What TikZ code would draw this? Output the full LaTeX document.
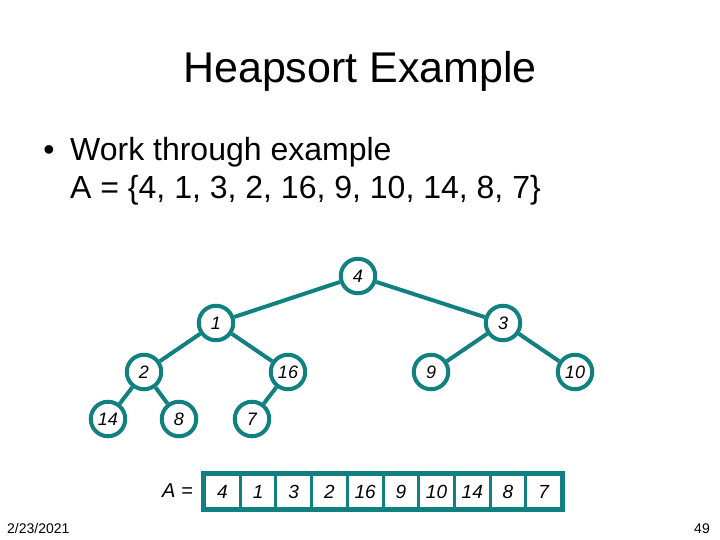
\documentclass[tikz,border=0pt]{standalone}
\usepackage{fontspec}
\setmainfont{Liberation Sans}
\definecolor{teal1}{RGB}{16,128,128}
\begin{document}
\begin{tikzpicture}[x=1pt,y=-1pt,
  hnode/.style={circle,draw=teal1,line width=4pt,fill=white,minimum size=34.5pt,inner sep=0pt,
     font=\fontsize{18}{20}\selectfont\itshape},
  hedge/.style={draw=teal1,line width=4pt},
  cell/.style={rectangle,draw=teal1,line width=3pt,minimum width=35.7pt,minimum height=34pt,inner sep=0pt,
     font=\fontsize{19}{22}\selectfont\itshape},
  txt/.style={inner sep=0pt,anchor=base west}]
\useasboundingbox (0,0) rectangle (720,540);
% title
\node[inner sep=0pt,anchor=base] (title) at (360,83) {\fontsize{43}{50}\selectfont Heapsort Example};
% bullet
\node[inner sep=0pt,anchor=base] (bul) at (49,161) {\fontsize{32}{38}\selectfont •};
\node[txt] (l1) at (70,161) {\fontsize{32}{38}\selectfont Work through example};
\node[txt] (l2) at (70,199) {\fontsize{32}{38}\selectfont A = \{4, 1, 3, 2, 16, 9, 10, 14, 8, 7\}};
% tree
\node[hnode] (n4) at (358,276) {4};
\node[hnode] (n1) at (216,323) {1};
\node[hnode] (n3) at (503,323) {3};
\node[hnode] (n2) at (144,372) {2};
\node[hnode] (n16) at (288,372) {16};
\node[hnode] (n9) at (431,372) {9};
\node[hnode] (n10) at (575,372) {10};
\node[hnode] (n14) at (108,419) {14};
\node[hnode] (n8) at (179,419) {8};
\node[hnode] (n7) at (252,419) {7};
\draw[hedge] (n4) -- (n1);
\draw[hedge] (n4) -- (n3);
\draw[hedge] (n1) -- (n2);
\draw[hedge] (n1) -- (n16);
\draw[hedge] (n3) -- (n9);
\draw[hedge] (n3) -- (n10);
\draw[hedge] (n2) -- (n14);
\draw[hedge] (n2) -- (n8);
\draw[hedge] (n16) -- (n7);
% array
\node[inner sep=0pt,anchor=base west,font=\fontsize{20}{22}\selectfont\itshape] (alabel) at (162,497) {A =};
\foreach \v [count=\i] in {4,1,3,2,16,9,10,14,8,7} {
  \node[cell] (c\i) at ({204.5+35.7*(\i-0.5)},491.5) {\v};
}
\draw[draw=teal1,line width=4.5pt] (c1.north west) rectangle (c10.south east);
% footer
\node[txt] (date) at (7,533) {\fontsize{14}{16}\selectfont 2/23/2021};
\node[inner sep=0pt,anchor=base east] (page) at (710,533) {\fontsize{14}{16}\selectfont 49};
\end{tikzpicture}
\end{document}
